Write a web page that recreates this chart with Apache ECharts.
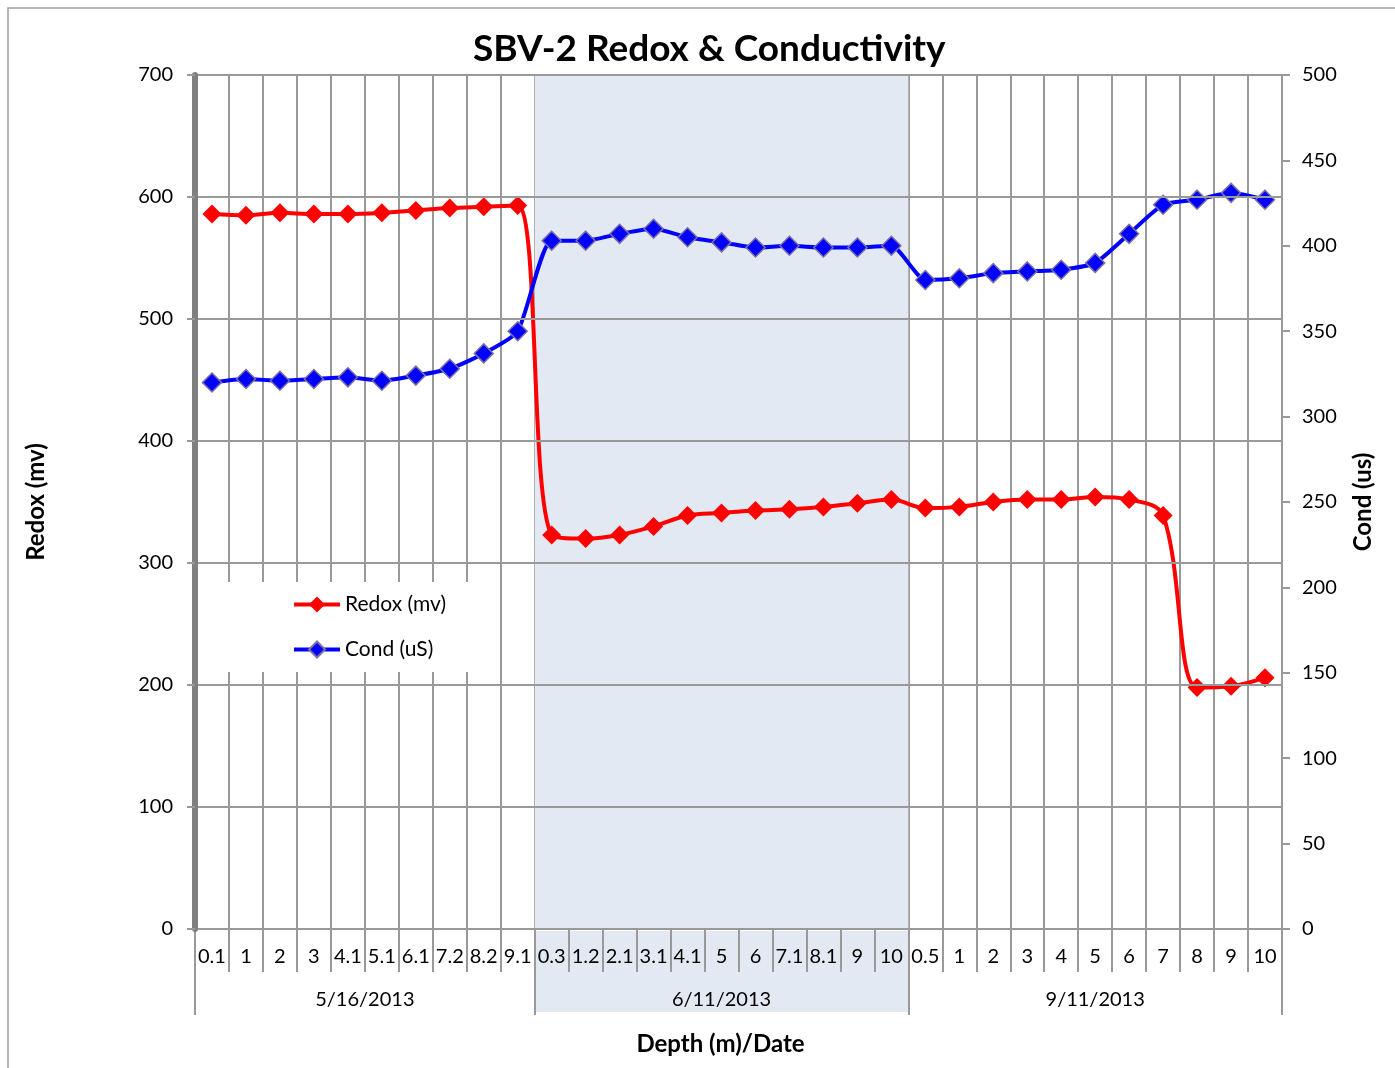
<!DOCTYPE html>
<html>
<head>
<meta charset="utf-8">
<script src="https://cdn.jsdelivr.net/npm/echarts@6/dist/echarts.min.js"></script>
<style>
  html, body { margin: 0; padding: 0; background: #fff; }
  #chart { width: 1395px; height: 1068px; }
</style>
</head>
<body>
<div id="chart"></div>
<script>
// depth categories, one list per sampling date
const dates = ['5/16/2013', '6/11/2013', '9/11/2013'];
const depthsMay = ['0.1', '1', '2', '3', '4.1', '5.1', '6.1', '7.2', '8.2', '9.1'];
const depthsJun = ['0.3', '1.2', '2.1', '3.1', '4.1', '5', '6', '7.1', '8.1', '9', '10'];
const depthsSep = ['0.5', '1', '2', '3', '4', '5', '6', '7', '8', '9', '10'];

const redox = [586, 585, 587, 586, 586, 587, 589, 591, 592, 593,
               323, 320, 323, 330, 339, 341, 343, 344, 346, 349, 352,
               345, 346, 350, 352, 352, 354, 352, 339, 198, 199, 206];
const cond = [320, 322, 321, 322, 323, 321, 324, 328, 337, 350,
              403, 403, 407, 410, 405, 402, 399, 400, 399, 399, 400,
              380, 381, 384, 385, 386, 390, 407, 424, 427, 431, 427];

const redoxTicks = { min: 0, max: 700, interval: 100 };
const condTicks = { min: 0, max: 500, interval: 50 };

const groups = [depthsMay, depthsJun, depthsSep];
const depths = [].concat(depthsMay, depthsJun, depthsSep);

// group boundaries and a date label in the middle of each group
const bounds = [];
const dateLabels = depths.map(() => '');
const halfShift = {};
let start = 0;
groups.forEach((g, i) => {
    bounds.push(start);
    const mid = start + Math.floor((g.length - 1) / 2);
    dateLabels[mid] = dates[i];
    if (g.length % 2 === 0) halfShift[mid] = true;
    start += g.length;
});

const font = 'Lato, "Open Sans", sans-serif';
const gridColor = '#999';

const chart = echarts.init(document.getElementById('chart'));
chart.setOption({
    backgroundColor: '#fff',
    animation: false,
    textStyle: { fontFamily: font },
    graphic: [{
        type: 'rect',
        shape: { x: 8, y: 8, width: 1400, height: 1080 },
        style: { fill: 'none', stroke: '#a0a0a0', lineWidth: 1.5 },
        silent: true
    }],
    title: {
        text: 'SBV-2 Redox & Conductivity',
        left: 468,
        top: 26,
        textStyle: { fontFamily: font, fontSize: 37, fontWeight: 'bold', color: '#000' }
    },
    legend: {
        orient: 'vertical',
        left: 197,
        top: 582,
        backgroundColor: '#fff',
        padding: [12, 52, 12, 95],
        itemGap: 24,
        itemWidth: 46,
        itemHeight: 20,
        lineStyle: { width: 4 },
        textStyle: { fontFamily: font, fontSize: 21, color: '#000' },
        data: ['Redox (mv)', 'Cond (uS)']
    },
    grid: [
        { left: 195, right: 113, top: 75, bottom: 139 },
        { left: 195, right: 113, top: 931, bottom: 56 }
    ],
    xAxis: [
        {
            type: 'category',
            gridIndex: 0,
            data: depths,
            position: 'bottom',
            axisLine: { lineStyle: { color: gridColor, width: 2 } },
            axisTick: { show: true, interval: 0, length: 43, lineStyle: { color: gridColor, width: 2 } },
            axisLabel: { interval: 0, margin: 18, fontSize: 20, color: '#000' },
            splitLine: { show: true, interval: 0, lineStyle: { color: gridColor, width: 2 } }
        },
        {
            type: 'category',
            gridIndex: 0,
            data: dateLabels,
            position: 'bottom',
            axisLine: { show: false },
            axisTick: {
                show: true,
                interval: (i) => bounds.indexOf(i) >= 0,
                length: 86,
                lineStyle: { color: gridColor, width: 2 }
            },
            axisLabel: {
                interval: 0,
                margin: 61,
                fontSize: 20,
                color: '#000',
                formatter: (v, i) => v ? (halfShift[i] ? '{s|' + v + '}' : v) : '',
                rich: { s: { fontSize: 20, padding: [0, 0, 0, 34], fontFamily: font } }
            },
            splitLine: { show: false },
            splitArea: {
                show: true,
                interval: (i) => bounds.indexOf(i) >= 0,
                areaStyle: { color: ['rgba(0,0,0,0)', '#e2e9f3'] }
            },
            name: 'Depth (m)/Date',
            nameLocation: 'middle',
            nameGap: 103,
            nameTextStyle: { fontSize: 24, fontWeight: 'bold', color: '#000', padding: [0, 36, 0, 0] }
        },
        {
            type: 'category',
            gridIndex: 1,
            data: depths,
            axisLine: { show: false },
            axisTick: { show: false },
            axisLabel: { show: false },
            splitLine: { show: false },
            splitArea: {
                show: true,
                interval: (i) => bounds.indexOf(i) >= 0,
                areaStyle: { color: ['rgba(0,0,0,0)', '#e2e9f3'] }
            }
        }
    ],
    yAxis: [
        {
            type: 'value',
            gridIndex: 0,
            min: redoxTicks.min,
            max: redoxTicks.max,
            interval: redoxTicks.interval,
            name: 'Redox (mv)',
            nameLocation: 'middle',
            nameGap: 147,
            nameTextStyle: { fontSize: 24, fontWeight: 'bold', color: '#000' },
            axisLine: { show: true, lineStyle: { color: '#808080', width: 6 } },
            axisTick: { show: true, length: 8, lineStyle: { color: gridColor, width: 2 } },
            axisLabel: { margin: 22, fontSize: 20, color: '#000' },
            splitLine: { show: true, lineStyle: { color: gridColor, width: 2 } },
            z: 5
        },
        {
            type: 'value',
            gridIndex: 0,
            position: 'right',
            min: condTicks.min,
            max: condTicks.max,
            interval: condTicks.interval,
            name: 'Cond (us)',
            nameLocation: 'middle',
            nameGap: 69,
            nameTextStyle: { fontSize: 24, fontWeight: 'bold', color: '#000' },
            axisLine: { show: true, lineStyle: { color: gridColor, width: 2 } },
            axisTick: { show: true, length: 8, lineStyle: { color: gridColor, width: 2 } },
            axisLabel: { margin: 20, fontSize: 20, color: '#000' },
            splitLine: { show: false }
        },
        {
            type: 'value',
            gridIndex: 1,
            min: 0,
            max: 1,
            show: false
        }
    ],
    series: [
        {
            name: 'Redox (mv)',
            type: 'line',
            xAxisIndex: 0,
            yAxisIndex: 0,
            data: redox,
            smooth: 0.35,
            symbol: 'diamond',
            symbolSize: 19,
            lineStyle: { color: '#ff0000', width: 4 },
            itemStyle: { color: '#ff0000' },
            z: 3
        },
        {
            name: 'Cond (uS)',
            type: 'line',
            xAxisIndex: 0,
            yAxisIndex: 1,
            data: cond,
            smooth: 0.2,
            symbol: 'diamond',
            symbolSize: 19,
            lineStyle: { color: '#0000ff', width: 4 },
            itemStyle: { color: '#0000ff', borderColor: '#7b6fa6', borderWidth: 1.5 },
            z: 4
        }
    ]
});
</script>
</body>
</html>
